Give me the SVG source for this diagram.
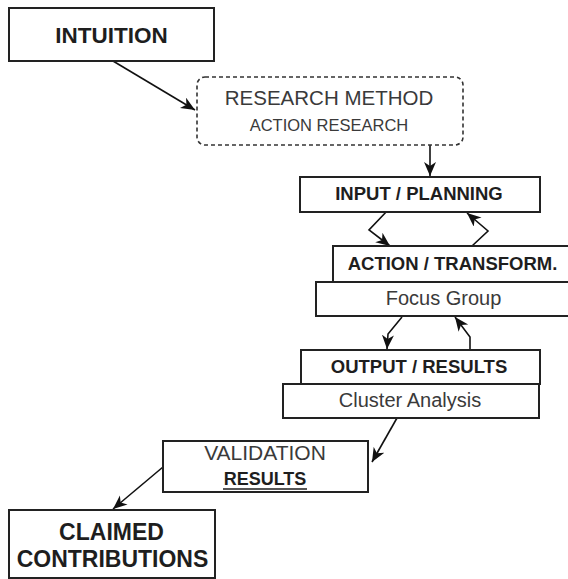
<svg xmlns="http://www.w3.org/2000/svg" width="568" height="579" viewBox="0 0 568 579">
<defs>
<style>
.box{fill:#fff;stroke:#222;stroke-width:2}
.dash{fill:#fff;stroke:#333;stroke-width:1.6;stroke-dasharray:4 3}
.b{font-family:"Liberation Sans",Arial,sans-serif;font-weight:bold;fill:#1e1e1e;text-anchor:middle}
.r{font-family:"Liberation Sans",Arial,sans-serif;fill:#3a3a3a;text-anchor:middle}
.c{fill:none;stroke:#111;stroke-width:1.6}
</style>
<marker id="ah" markerWidth="15" markerHeight="13" refX="14" refY="6" orient="auto" markerUnits="userSpaceOnUse">
<path d="M0,0 L14,6 L0,12 L4,6 Z" fill="#111"/>
</marker>
</defs>
<rect width="568" height="579" fill="#fff"/>
<g id="connectors">
<path class="c" d="M113,61 L195,110" marker-end="url(#ah)"/>
<path class="c" d="M430,145 L430,176" marker-end="url(#ah)"/>
<path class="c" d="M388,210 L369,230 L390,246" marker-end="url(#ah)"/>
<path class="c" d="M472,246 L488,231 L467,213" marker-end="url(#ah)"/>
<path class="c" d="M402,317 L388,334 L387,349" marker-end="url(#ah)"/>
<path class="c" d="M470,350 L470,337 L455,317" marker-end="url(#ah)"/>
<path class="c" d="M397,418 L372,462" marker-end="url(#ah)"/>
<path class="c" d="M163,467 L113,509" marker-end="url(#ah)"/>
</g>
<g id="intuition">
<rect class="box" x="9" y="8" width="205" height="53"/>
<text class="b" x="111.5" y="43" font-size="22.5">INTUITION</text>
</g>
<g id="research-method">
<rect class="dash" x="197" y="77" width="266" height="68" rx="8"/>
<text class="r" x="329" y="105" font-size="20.5">RESEARCH METHOD</text>
<text class="r" x="329" y="131" font-size="16.5">ACTION RESEARCH</text>
</g>
<g id="input-planning">
<rect class="box" x="300" y="177" width="240" height="35"/>
<text class="b" x="419" y="200" font-size="18.5">INPUT / PLANNING</text>
</g>
<g id="action-transform">
<rect class="box" x="333" y="246" width="240" height="36"/>
<text class="b" x="452.5" y="270" font-size="18.5">ACTION / TRANSFORM.</text>
</g>
<g id="focus-group">
<rect class="box" x="316" y="282" width="257" height="34"/>
<text class="r" x="443.5" y="305" font-size="20">Focus Group</text>
</g>
<g id="output-results">
<rect class="box" x="301" y="350" width="239" height="34"/>
<text class="b" x="419" y="373" font-size="18.5">OUTPUT / RESULTS</text>
</g>
<g id="cluster-analysis">
<rect class="box" x="283" y="384" width="256" height="34"/>
<text class="r" x="410" y="407" font-size="20">Cluster Analysis</text>
</g>
<g id="validation">
<rect class="box" x="163" y="441" width="205" height="51"/>
<text class="r" x="265" y="460" font-size="21">VALIDATION</text>
<text class="b" x="265" y="485" font-size="18">RESULTS</text>
<line x1="223" y1="489" x2="307" y2="489" stroke="#1e1e1e" stroke-width="1.6"/>
</g>
<g id="claimed-contributions">
<rect class="box" x="9" y="510" width="206" height="68"/>
<text class="b" x="111.5" y="540" font-size="23">CLAIMED</text>
<text class="b" x="112.5" y="567" font-size="23">CONTRIBUTIONS</text>
</g>
</svg>
